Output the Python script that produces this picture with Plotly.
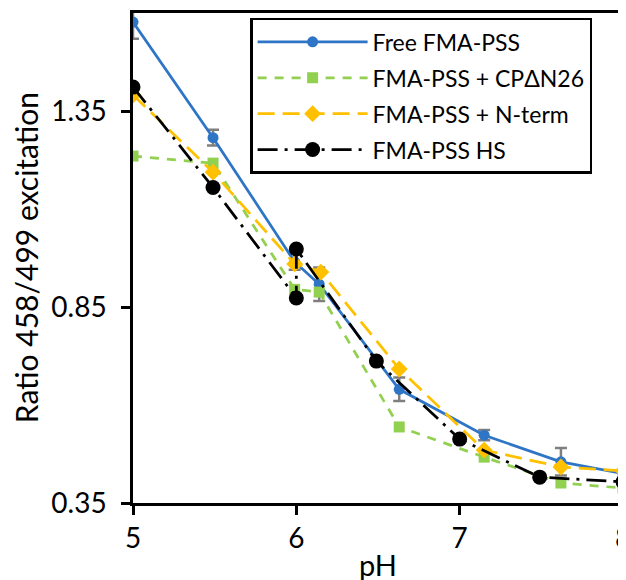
import plotly.graph_objects as go

# pH values and ratio values
ph_free = [5.0, 5.49, 5.99, 6.14, 6.63, 7.15, 7.62, 8.0]
ratio_free = [1.577, 1.282, 0.965, 0.908, 0.640, 0.523, 0.455, 0.425]
err_free = [0.043, 0.02, 0.02, 0.043, 0.03, 0.013, 0.035, 0.01]

ph_cp = [5.0, 5.49, 5.99, 6.14, 6.63, 7.15, 7.62, 8.0]
ratio_cp = [1.235, 1.217, 0.895, 0.888, 0.544, 0.467, 0.401, 0.388]

ph_nterm = [5.0, 5.49, 5.99, 6.15, 6.63, 7.15, 7.62, 8.0]
ratio_nterm = [1.391, 1.194, 0.960, 0.939, 0.692, 0.485, 0.442, 0.432]

ph_hs = [5.0, 5.49, 6.0, 6.0, 6.49, 7.0, 7.49, 8.0]
ratio_hs = [1.411, 1.155, 0.873, 0.998, 0.712, 0.513, 0.416, 0.404]

names = ["Free FMA-PSS", "FMA-PSS + CP\u0394N26", "FMA-PSS + N-term", "FMA-PSS HS"]

x_ticks = [5, 6, 7, 8]
y_ticks = [0.35, 0.85, 1.35]
y_tick_labels = ["0.35", "0.85", "1.35"]

FONT = "Lato"
LW = 2.75

fig = go.Figure()
fig.add_trace(go.Scatter(
    x=ph_free, y=ratio_free, name=names[0], mode="lines+markers", legendgroup="g1",
    line=dict(color="#2E75C6", width=LW),
    marker=dict(symbol="circle", size=11, color="#2E75C6"),
    error_y=dict(type="data", array=err_free, color="#7F7F7F", thickness=2.5, width=6),
))
fig.add_trace(go.Scatter(
    x=ph_cp, y=ratio_cp, name=names[1], mode="lines+markers", legendgroup="g2",
    line=dict(color="#92D050", width=LW, dash="9px,8px"),
    marker=dict(symbol="square", size=11, color="#92D050"),
))
fig.add_trace(go.Scatter(
    x=ph_nterm, y=ratio_nterm, name=names[2], mode="lines+markers", legendgroup="g3",
    line=dict(color="#FFC000", width=LW, dash="17px,8px"),
    marker=dict(symbol="diamond", size=13, color="#FFC000"),
))
fig.add_trace(go.Scatter(
    x=ph_hs, y=ratio_hs, name=names[3], mode="lines+markers", legendgroup="g4",
    line=dict(color="#000000", width=LW, dash="20px,7px,3px,7px"),
    marker=dict(symbol="circle", size=15, color="#000000"),
))

# the page body adds an 8px offset, so the figure is sized to compensate
fig.update_layout(
    width=618, height=572,
    margin=dict(l=125, r=3, t=5, b=77),
    paper_bgcolor="white", plot_bgcolor="white",
    font=dict(family=FONT, size=23, color="#000000"),
    showlegend=True,
    legend=dict(
        x=0.239, y=0.99, xanchor="left", yanchor="top",
        bordercolor="#000000", borderwidth=2.5, bgcolor="white",
        font=dict(family=FONT, size=23, color="#000000"),
        itemwidth=110, tracegroupgap=3,
    ),
    xaxis=dict(
        range=[5, 8], tickvals=x_ticks, ticktext=[str(v) for v in x_ticks],
        showgrid=False, zeroline=False, automargin=False,
        showline=True, linecolor="#000000", linewidth=2.5, mirror=True,
        ticks="outside", ticklen=9, tickwidth=2.5, tickcolor="#000000",
        ticklabelstandoff=0, ticklabeloverflow="allow",
        tickfont=dict(family=FONT, size=28),
    ),
    yaxis=dict(
        range=[0.35, 1.60], tickvals=y_ticks, ticktext=y_tick_labels,
        showgrid=False, zeroline=False, automargin=False,
        showline=True, linecolor="#000000", linewidth=2.5, mirror=True,
        ticks="outside", ticklen=9, tickwidth=2.5, tickcolor="#000000",
        ticklabelstandoff=9,
        tickfont=dict(family=FONT, size=28),
    ),
    annotations=[
        dict(
            text="Ratio 458/499 excitation", textangle=-90,
            xref="paper", yref="paper", x=-0.218, y=0.5,
            xanchor="center", yanchor="middle", showarrow=False,
            font=dict(family=FONT, size=30, color="#000000"),
        ),
        dict(
            text="pH", xref="paper", yref="paper", x=0.5, y=-0.126,
            xanchor="center", yanchor="middle", showarrow=False,
            font=dict(family=FONT, size=29, color="#000000"),
        ),
    ],
)

fig.write_html("out.html")
